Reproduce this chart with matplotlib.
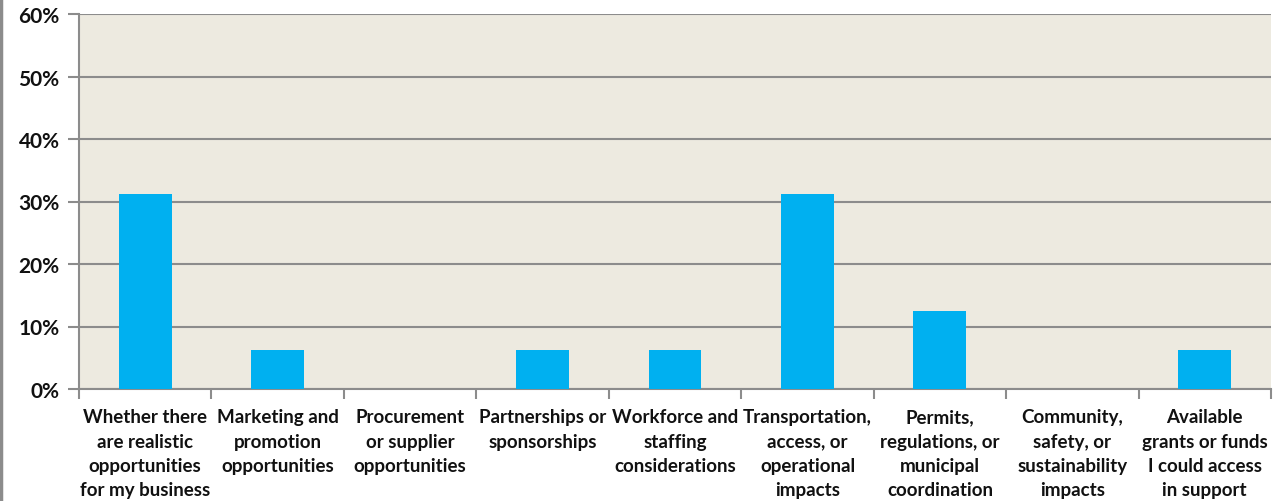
import matplotlib
matplotlib.use("Agg")
import matplotlib.pyplot as plt
from matplotlib.lines import Line2D
from matplotlib.ticker import FuncFormatter, FixedLocator
import numpy as np

categories = [
    "Whether there\nare realistic\nopportunities\nfor my business",
    "Marketing and\npromotion\nopportunities",
    "Procurement\nor supplier\nopportunities",
    "Partnerships or\nsponsorships",
    "Workforce and\nstaffing\nconsiderations",
    "Transportation,\naccess, or\noperational\nimpacts",
    "Permits,\nregulations, or\nmunicipal\ncoordination",
    "Community,\nsafety, or\nsustainability\nimpacts",
    "Available\ngrants or funds\nI could access\nin support",
]
values = [0.3125, 0.0625, 0.0, 0.0625, 0.0625, 0.3125, 0.125, 0.0, 0.0625]
yticks = [0, 0.1, 0.2, 0.3, 0.4, 0.5, 0.6]

W, H = 1285, 502
fig = plt.figure(figsize=(W / 100, H / 100), dpi=100)
ax = fig.add_axes([79 / W, 1 - 390 / H, (1271 - 79) / W, (390 - 15) / H])
ax.set_facecolor("#EDEAE0")

x = np.arange(len(categories))
ax.bar(x, values, width=0.40, color="#00B0F0", zorder=3)

ax.set_xlim(-0.5, len(categories) - 0.5)
ax.set_ylim(0, 0.6)
ax.yaxis.set_major_locator(FixedLocator(yticks))
ax.yaxis.set_major_formatter(FuncFormatter(lambda v, p: f"{v*100:.0f}%"))
ax.grid(axis="y", color="#8C8C8C", linewidth=1.5, zorder=1)

for s in ["top", "right"]:
    ax.spines[s].set_visible(False)
ax.spines["left"].set_color("#8C8C8C")
ax.spines["left"].set_linewidth(1.5)
ax.spines["bottom"].set_color("#8C8C8C")
ax.spines["bottom"].set_linewidth(1.5)

ax.set_xticks(x)
ax.set_xticklabels(categories)
ax.tick_params(axis="x", length=0, pad=14)
ax.set_xticks(np.arange(-0.5, len(categories)), minor=True)
ax.tick_params(axis="x", which="minor", length=7, color="#8C8C8C", width=1.5)
ax.tick_params(axis="y", length=8, color="#8C8C8C", width=1.5, pad=6)

for lab in ax.get_xticklabels():
    lab.set_fontfamily("Lato")
    lab.set_fontweight("bold")
    lab.set_fontsize(13.5)
    lab.set_linespacing(1.52)
    lab.set_color("#111111")
    lab.set_verticalalignment("top")
for lab in ax.get_yticklabels():
    lab.set_fontfamily("Lato")
    lab.set_fontweight("bold")
    lab.set_fontsize(15)
    lab.set_color("#111111")

fig.add_artist(Line2D([1 / W, 1 / W], [0, 1], transform=fig.transFigure,
                      color="#8C8C8C", linewidth=2.5))

fig.savefig("out.png", dpi=100)
